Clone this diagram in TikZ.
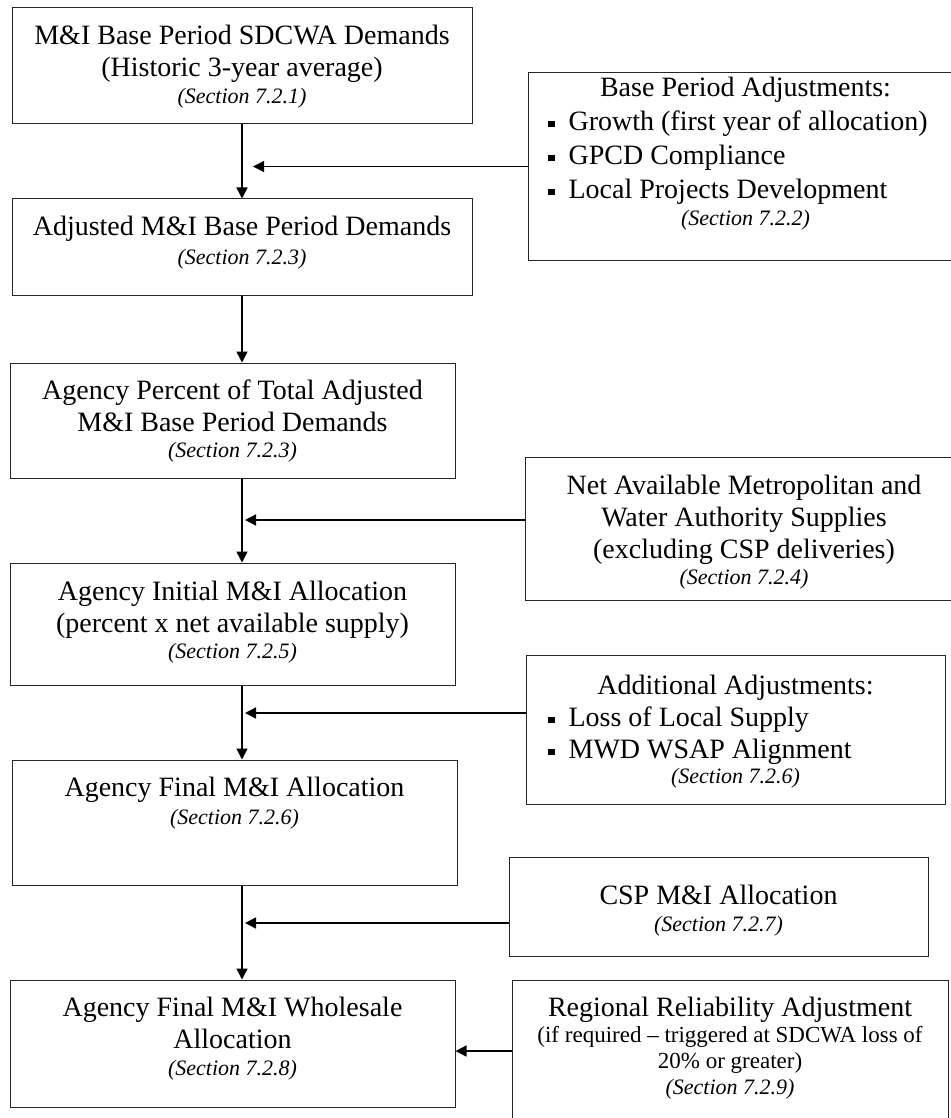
\documentclass[tikz,border=0pt]{standalone}
\usepackage{fontspec}
\setmainfont{Liberation Serif}
\usetikzlibrary{arrows.meta,positioning}
\newcommand{\sqbul}{\raisebox{1.8pt}{\rule{3.3pt}{3.3pt}}\hspace{7pt}}
\newcommand{\sectag}[1]{{\fontsize{11}{13}\selectfont\itshape (Section #1)}}

\begin{document}
\begin{tikzpicture}[x=0.5pt,y=-0.5pt,>={Triangle[length=5.5pt,width=5.5pt]},
  box/.style={draw=black!85,line width=0.5pt,inner sep=0pt},
  txt/.style={align=center,inner sep=0pt,font=\fontsize{14}{16}\selectfont},
  flow/.style={->,line width=0.75pt}]
\useasboundingbox (0,0) rectangle (951,1118);
\clip (0,0) rectangle (951,1118);
\coordinate (col) at (242,0);
% main column
\node[box,minimum width=230pt,minimum height=58pt] (base) at (242,66) {};
\node[box,minimum width=230pt,minimum height=48pt] (adj) at (242,247) {};
\node[box,minimum width=222.5pt,minimum height=57.5pt] (pct) at (232.5,420.5) {};
\node[box,minimum width=222.5pt,minimum height=61pt] (init) at (232.5,624) {};
\node[box,minimum width=222.5pt,minimum height=62.5pt] (final) at (234.5,822.5) {};
\node[box,minimum width=222.5pt,minimum height=63.5pt] (whole) at (232.5,1043.5) {};
% inputs on the right
\node[box,minimum width=217.5pt,minimum height=93.5pt] (bpa) at (745.5,166.5) {};
\node[box,minimum width=219pt,minimum height=71.5pt] (nam) at (744,528.5) {};
\node[box,minimum width=209.5pt,minimum height=74.5pt] (aa) at (735.5,729.5) {};
\node[box,minimum width=209.5pt,minimum height=49.5pt] (csp) at (718.5,906.5) {};
\node[box,minimum width=218pt,minimum height=71pt] (rra) at (730,1051) {};
% texts
\node[txt,below=8.8pt of base.north] (baseT) {M\&I Base Period SDCWA Demands\\(Historic 3-year average)\\[-2.5pt]\sectag{7.2.1}};
\node[txt,below=8.8pt of adj.north] (adjT) {Adjusted M\&I Base Period Demands\\[-1.5pt]\sectag{7.2.3}};
\node[txt,below=8.3pt of pct.north] (pctT) {Agency Percent of Total Adjusted\\M\&I Base Period Demands\\[-3pt]\sectag{7.2.3}};
\node[txt,below=9.3pt of init.north] (initT) {Agency Initial M\&I Allocation\\(percent x net available supply)\\[-3pt]\sectag{7.2.5}};
\node[txt,below=8.8pt of final.north] (finalT) {Agency Final M\&I Allocation\\[-2pt]\sectag{7.2.6}};
\node[txt,below=8.8pt of whole.north] (wholeT) {Agency Final M\&I Wholesale\\Allocation\\[-2.5pt]\sectag{7.2.8}};
\node[txt,below=2.3pt of bpa.north] (bpaT) {Base Period Adjustments:\\[1pt]
  \makebox[197.5pt][l]{\sqbul Growth (first year of allocation)}\\[1pt]
  \makebox[197.5pt][l]{\sqbul GPCD Compliance}\\[1pt]
  \makebox[197.5pt][l]{\sqbul Local Projects Development}\\[-2.5pt]\sectag{7.2.2}};
\node[txt,below=9.3pt of nam.north] (namT) {Net Available Metropolitan and\\Water Authority Supplies\\(excluding CSP deliveries)\\[-3pt]\sectag{7.2.4}};
\node[txt,below=10.3pt of aa.north] (aaT) {Additional Adjustments:\\
  \makebox[187.5pt][l]{\sqbul Loss of Local Supply}\\
  \makebox[187.5pt][l]{\sqbul MWD WSAP Alignment}\\[-3.5pt]\sectag{7.2.6}};
\node[txt,below=14.3pt of csp.north] (cspT) {CSP M\&I Allocation\\[-2.5pt]\sectag{7.2.7}};
\node[txt,below=8.8pt of rra.north] (rraT) {Regional Reliability Adjustment\\[-3pt]
  {\fontsize{11.5}{13}\selectfont (if required – triggered at SDCWA loss of}\\[-3pt]
  {\fontsize{11.5}{13}\selectfont 20\% or greater)}\\[-3pt]\sectag{7.2.9}};
% connectors
\draw[flow] (base.south -| col) -- (adj.north -| col);
\draw[flow] (adj.south -| col) -- (pct.north -| col);
\draw[flow] (pct.south -| col) -- (init.north -| col);
\draw[flow] (init.south -| col) -- (final.north -| col);
\draw[flow] (final.south -| col) -- (whole.north -| col);
\draw[flow,shorten >=5.5pt] (bpa.west) -- (bpa.west -| col);
\draw[flow,shorten >=1.5pt] ([yshift=4.25pt]nam.west) -- ([yshift=4.25pt]nam.west -| col);
\draw[flow,shorten >=1.5pt] ([yshift=8.25pt]aa.west) -- ([yshift=8.25pt]aa.west -| col);
\draw[flow,shorten >=1.5pt] ([yshift=-8.25pt]csp.west) -- ([yshift=-8.25pt]csp.west -| col);
\draw[flow] (rra.west) -- (rra.west -| whole.east);
\end{tikzpicture}
\end{document}
